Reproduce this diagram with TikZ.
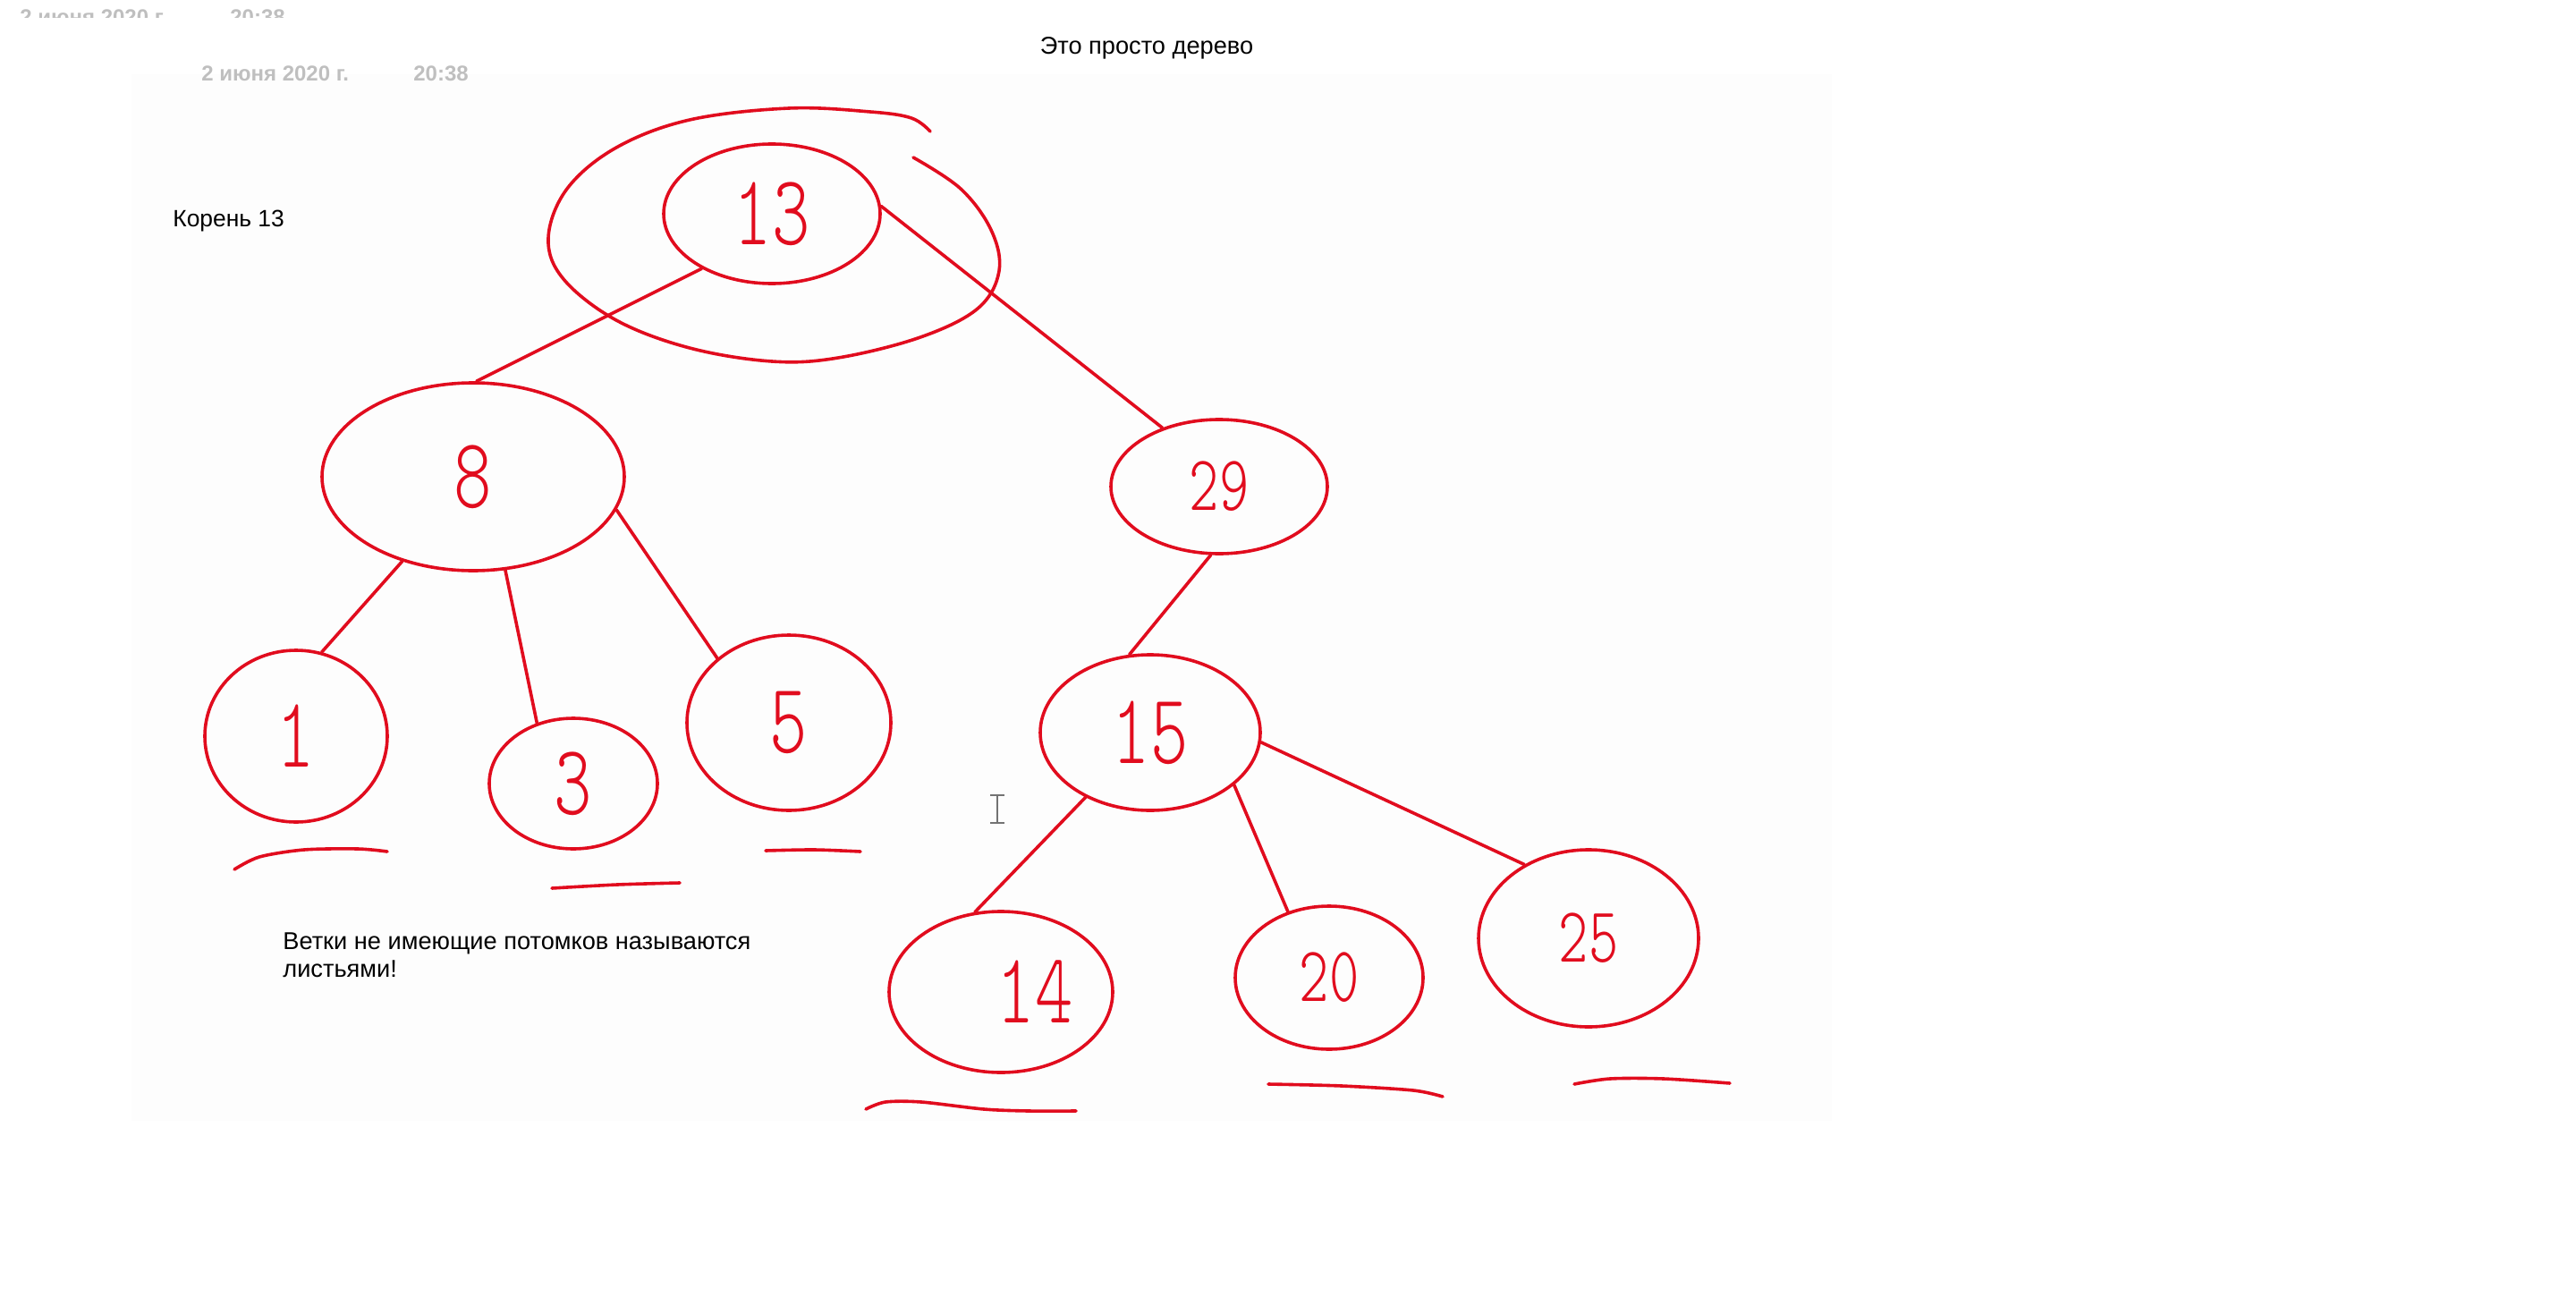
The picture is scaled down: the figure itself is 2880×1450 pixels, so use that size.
\documentclass[tikz,border=0pt]{standalone}
\usepackage{fontspec}
\setmainfont{Liberation Sans}
\newfontfamily\handfont[Extension=.otf]{lmmonolt10-regular}
\usetikzlibrary{shapes.geometric}
\definecolor{pen}{RGB}{225,12,30}
\newcommand\handnum[1]{\scalebox{0.72}[1]{#1}}
\begin{document}
\begin{tikzpicture}[x=0.5pt,y=-0.5pt,
  tnode/.style={ellipse, draw=pen, line width=1.8pt, inner sep=0pt, text=pen,
    font=\handfont\fontsize{56}{56}\selectfont},
  small/.style={font=\handfont\fontsize{44}{44}\selectfont},
  edge/.style={draw=pen, line width=1.8pt, line cap=round},
  penline/.style={draw=pen, line width=1.8pt, line cap=round},
  txt/.style={inner sep=0pt, font=\fontsize{13.6}{15.5}\selectfont, text=black},
  datetxt/.style={inner sep=0pt, font=\bfseries\fontsize{12}{14}\selectfont, text=black!25},
  cursor/.style={draw=black!55, line width=1.1pt}]
\useasboundingbox (0,0) rectangle (2880,1450);
\fill[black!0.6] (147,83) rectangle (2048,1253);

% faded dates
\begin{scope}
  \clip (0,0) rectangle (700,20);
  \node[datetxt, anchor=base west] (d1) at (22,28) {2 июня 2020 г.};
  \node[datetxt, anchor=base west] (t1) at (257,28) {20:38};
\end{scope}
\node[datetxt, anchor=base west] (d2) at (225,91) {2 июня 2020 г.};
\node[datetxt, anchor=base west] (t2) at (462,91) {20:38};

% texts
\node[txt, anchor=base] (title) at (1282,61) {Это просто дерево};
\node[txt, font=\fontsize{13.2}{15.5}\selectfont, anchor=base west] (root) at (193,253) {Корень 13};
\node[txt, anchor=base west, align=left] (leaves) at (316,1092)
  {Ветки не имеющие потомков называются\\листьями!};

% tree nodes
\node[tnode, minimum width=121pt, minimum height=78pt] (n13) at (863,239) {\handnum{13}};
\node[tnode, minimum width=169pt, minimum height=105pt] (n8) at (529,533) {\handnum{8}};
\node[tnode, small, minimum width=121pt, minimum height=75pt] (n29) at (1363,544) {\handnum{29}};
\node[tnode, minimum width=102pt, minimum height=96pt] (n1) at (331,823) {\handnum{1}};
\node[tnode, minimum width=94pt, minimum height=73pt] (n3) at (641,876) {\handnum{3}};
\node[tnode, minimum width=114pt, minimum height=98pt] (n5) at (882,808) {\handnum{5}};
\node[tnode, minimum width=123pt, minimum height=87pt] (n15) at (1286,819) {\handnum{15}};
\node[tnode, minimum width=125pt, minimum height=90pt] (n14) at (1119,1109) {\hspace*{38pt}\handnum{14}};
\node[tnode, small, minimum width=105pt, minimum height=80pt] (n20) at (1486,1093) {\handnum{20}};
\node[tnode, small, minimum width=123pt, minimum height=99pt] (n25) at (1776,1049) {\handnum{25}};

% outer ring round the root
\draw[penline] plot[smooth, tension=0.6] coordinates {
  (1021,176) (1074,211) (1108,257) (1117,303) (1093,345) (1029,377)
  (937,400) (863,404) (771,389) (689,358) (630,312) (613,266) (634,211)
  (689,165) (771,134) (882,121) (973,125) (1019,132) (1040,147)};

% edges
\draw[edge] (n13.218) -- (n8.88);
\draw[edge] (n13.4) -- (n29.134);
\draw[edge] (n8.230) -- (n1.73);
\draw[edge] (n8.289) -- (n3.121);
\draw[edge] (n8.347) -- (n5.138);
\draw[edge] (n29.263) -- (n15.105);
\draw[edge] (n15.225) -- (n14.108);
\draw[edge] (n15.328) -- (n20.122);
\draw[edge] (n15.355) -- (n25.131);

% leaf underlines
\draw[penline] plot[smooth] coordinates {(262,972) (290,958) (340,950) (400,949) (433,952)};
\draw[penline] plot[smooth] coordinates {(617,993) (690,989) (760,987)};
\draw[penline] plot[smooth] coordinates {(856,951) (910,950) (962,952)};
\draw[penline] plot[smooth] coordinates {(968,1240) (990,1232) (1030,1232) (1100,1240) (1150,1242) (1203,1242)};
\draw[penline] plot[smooth] coordinates {(1418,1212) (1500,1214) (1580,1219) (1613,1226)};
\draw[penline] plot[smooth] coordinates {(1760,1212) (1800,1206) (1860,1206) (1934,1211)};

% text cursor
\draw[cursor] (1115,889) -- (1115,920) (1107,889) -- (1123,889) (1107,920) -- (1123,920);
\end{tikzpicture}
\end{document}
